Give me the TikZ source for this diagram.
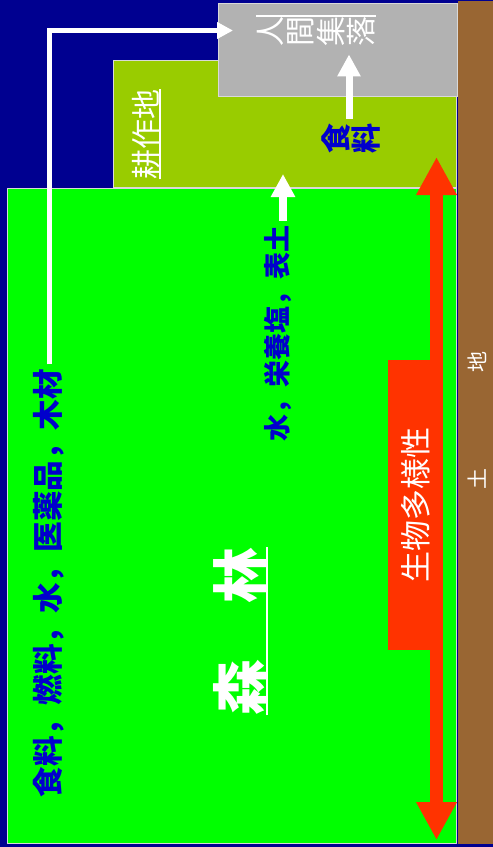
\documentclass[tikz,border=0pt]{standalone}
\usepackage{fontspec}
\setmainfont{Noto Sans CJK JP}
\usepackage{xcolor}
\usepackage{tikz}
\usetikzlibrary{arrows.meta, positioning, calc}

\definecolor{navybg}{HTML}{000090}
\definecolor{soilbrown}{HTML}{996633}
\definecolor{woodgreen}{HTML}{00FF00}
\definecolor{fieldolive}{HTML}{99CC00}
\definecolor{towngray}{HTML}{B2B2B2}
\definecolor{diverred}{HTML}{FF3300}
\definecolor{textblue}{HTML}{0000CC}

\begin{document}
\begin{tikzpicture}[
    x=0.5pt, y=-0.5pt,
    area/.style={rectangle, draw=white!85!black, line width=0.5pt, inner sep=0pt, anchor=north west},
    wlabel/.style={rotate=90, text=white, inner sep=0pt},
    blabel/.style={rotate=90, text=textblue, inner sep=2pt},
    warrow/.style={draw=white, line width=#1},
    redarrow/.style={draw=diverred, line width=6.5pt, {Triangle[length=19pt,width=19pt]}-{Triangle[length=19pt,width=19pt]}}
]
    \useasboundingbox (0,0) rectangle (493,847);
    \fill[navybg] (0,0) rectangle (493,847);

    % Areas
    \node (ground) [area, draw=none, fill=soilbrown, minimum width=18pt, minimum height=421.5pt] at (457,0) {};
    \node (crop) [area, fill=fieldolive, minimum width=171.5pt, minimum height=63.5pt] at (113,60) {};
    \node (settle) [area, fill=towngray, minimum width=119.5pt, minimum height=46.5pt] at (218,3) {};
    \node (forest) [area, fill=woodgreen, minimum width=224.5pt, minimum height=327.5pt] at (7,188) {};

    % Labels
    \node (forestlbl) [wlabel, font=\fontsize{28pt}{28pt}\selectfont\bfseries] at (240,631) {森　林};
    \node (croplbl) [wlabel, font=\fontsize{15pt}{15pt}\selectfont] at (146,134) {耕作地};
    \node (hamlet) [wlabel, align=center, font=\fontsize{15pt}{15.3pt}\selectfont] at (316,31) {人\\間\\集\\落};
    \node (goods) [blabel, font=\fontsize{15.3pt}{15.3pt}\selectfont\bfseries] at (49,583) {食料，燃料，水，医薬品，木材};
    \node (soil) [blabel, font=\fontsize{13.5pt}{13.5pt}\selectfont\bfseries] at (278,333) {水，栄養塩，表土};
    \node (food) [blabel, align=center, font=\fontsize{15pt}{15.3pt}\selectfont\bfseries] at (351,138) {食\\料};
    \node (diversity) [rotate=90, fill=diverred, text=white, minimum width=145pt, minimum height=27.5pt, font=\fontsize{15.5pt}{15.5pt}\selectfont] at (415.5,505) {生物多様性};
    \node (groundlow) [wlabel, font=\fontsize{10.5pt}{10.5pt}\selectfont] at (477,479) {土};
    \node (groundhigh) [wlabel, font=\fontsize{10.5pt}{10.5pt}\selectfont] at (477,362) {地};

    % Underlines
    \draw [white, line width=1pt] (forestlbl.south west) -- (forestlbl.south east);
    \draw [white, line width=1pt] (croplbl.south west) -- (croplbl.south east);
    \draw [white, line width=1pt] (hamlet.north east) -- (hamlet.south east);

    % Flows
    \draw [warrow=2.5pt, -{Triangle[length=8pt,width=8pt]}, shorten >=-7.5pt] (goods.east) |- ([yshift=9.75pt]settle.west);
    \draw [warrow=3.5pt, -{Triangle[length=11pt,width=11pt]}, shorten >=4pt] ([xshift=-1pt]food.east) -- ([xshift=-1pt]food.east |- hamlet.west);
    \draw [warrow=4pt, -{Triangle[length=11.5pt,width=11.5pt]}, shorten >=-7pt] ([xshift=2.5pt]soil.east) -- ([xshift=2.5pt]soil.east |- crop.south);
    \coordinate (divtop) at (436.5,157);
    \coordinate (divbot) at (436.5,840);
    \draw [redarrow] (divtop) -- (divbot);

\end{tikzpicture}
\end{document}
